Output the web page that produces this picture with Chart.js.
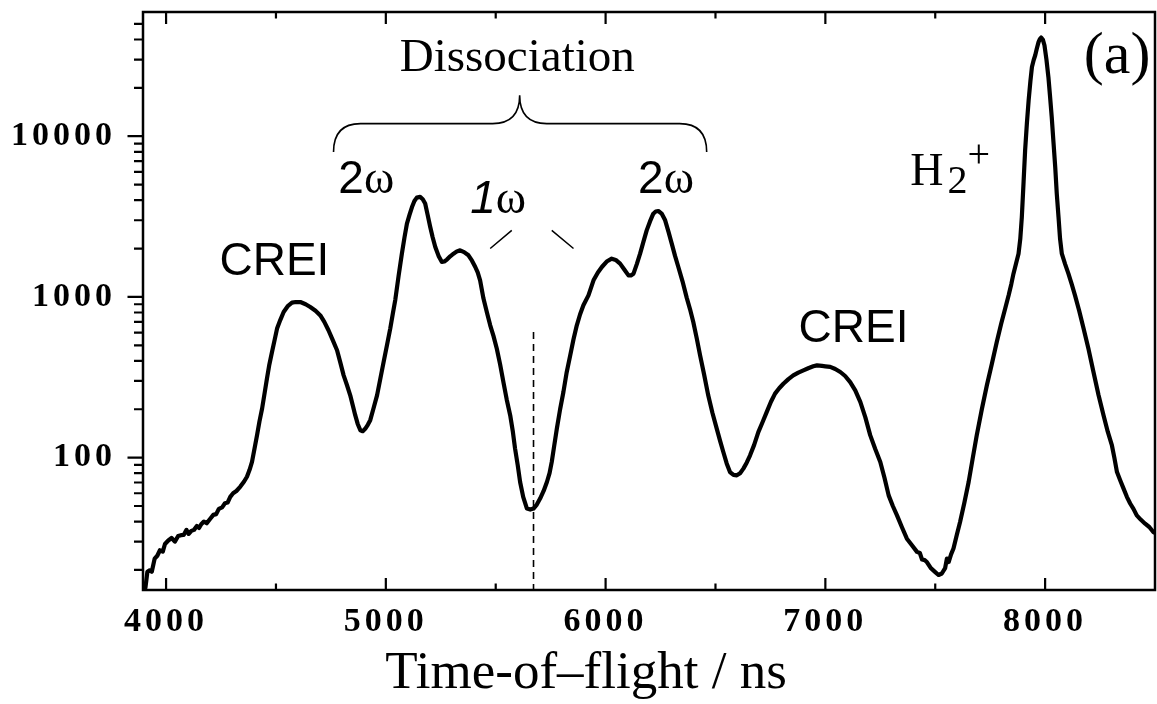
<!DOCTYPE html>
<html>
<head>
<meta charset="utf-8">
<title>Time-of-flight spectrum</title>
<script src="https://cdn.jsdelivr.net/npm/chart.js@4.4.1/dist/chart.umd.min.js"></script>
<style>
  html, body { margin: 0; padding: 0; background: #fff; }
  #wrap { width: 1157px; height: 704px; }
</style>
</head>
<body>
<div id="wrap"><canvas id="tof" width="1157" height="704"></canvas></div>
<script>
// time of flight (ns)
var TOF = [
  3906, 3915, 3925, 3935, 3948, 3960, 3972, 3985, 3995, 4010, 4025, 4040, 4055, 4068, 4080, 4093,
  4103, 4115, 4127, 4140, 4150, 4160, 4172, 4185, 4200, 4215, 4228, 4240, 4255, 4268, 4280, 4292,
  4305, 4320, 4338, 4355, 4368, 4380, 4391, 4402, 4414, 4425, 4437, 4449, 4459, 4470, 4482, 4494,
  4505, 4520, 4535, 4555, 4573, 4590, 4611, 4635, 4656, 4680, 4702, 4720, 4739, 4758, 4778, 4793,
  4808, 4823, 4838, 4850, 4861, 4872, 4884, 4895, 4906, 4918, 4929, 4945, 4960, 4975, 4990, 5005,
  5020, 5032, 5043, 5058, 5073, 5085, 5096, 5108, 5119, 5130, 5141, 5156, 5168, 5179, 5190, 5202,
  5213, 5225, 5240, 5255, 5266, 5278, 5293, 5308, 5323, 5338, 5356, 5376, 5392, 5407, 5418, 5429,
  5444, 5460, 5475, 5490, 5505, 5520, 5535, 5550, 5566, 5578, 5588, 5600, 5611, 5625, 5642, 5657,
  5672, 5687, 5702, 5718, 5733, 5745, 5755, 5766, 5778, 5793, 5808, 5823, 5839, 5854, 5869, 5884,
  5899, 5922, 5945, 5965, 5983, 6005, 6028, 6046, 6066, 6085, 6104, 6115, 6127, 6142, 6157, 6172,
  6187, 6202, 6217, 6228, 6240, 6255, 6271, 6286, 6301, 6316, 6331, 6350, 6369, 6384, 6399, 6415,
  6430, 6448, 6467, 6486, 6506, 6521, 6536, 6551, 6566, 6582, 6597, 6612, 6627, 6642, 6657, 6676,
  6695, 6714, 6733, 6752, 6771, 6790, 6809, 6832, 6854, 6877, 6900, 6922, 6945, 6962, 6985, 7000,
  7022, 7045, 7068, 7090, 7113, 7136, 7159, 7182, 7204, 7227, 7250, 7269, 7288, 7307, 7326, 7348,
  7371, 7394, 7417, 7430, 7440, 7452, 7462, 7480, 7500, 7515, 7530, 7545, 7553, 7561, 7572, 7583,
  7598, 7613, 7632, 7652, 7670, 7689, 7712, 7735, 7758, 7780, 7800, 7818, 7834, 7846, 7856, 7868,
  7879, 7887, 7894, 7902, 7909, 7917, 7925, 7933, 7940, 7948, 7955, 7962, 7970, 7976, 7982, 7990,
  7997, 8006, 8015, 8022, 8030, 8038, 8046, 8053, 8061, 8068, 8076, 8091, 8106, 8121, 8136, 8155,
  8175, 8198, 8220, 8243, 8266, 8285, 8304, 8315, 8327, 8342, 8357, 8372, 8387, 8402, 8417, 8436,
  8455, 8474, 8493, 8500
];
// ion counts at each time
var COUNTS = [
  15.5, 19.5, 19.9, 19.5, 23.5, 24.5, 26.5, 26, 29, 30.5, 31.6, 30, 32.5, 32.9, 33, 35.5,
  33.5, 35, 35.5, 37.5, 36.5, 38.5, 40, 39, 41.5, 44, 44.5, 48, 49, 52, 52.5, 57,
  60, 62, 66, 71, 76, 84, 94, 113, 138, 168, 202, 255, 310, 380, 454, 540,
  635, 720, 806, 880, 921, 930, 929, 900, 865, 820, 767, 700, 620, 540, 466, 390,
  325, 283, 244, 210, 183, 162, 148, 146, 151, 160, 171, 205, 244, 310, 394, 500,
  635, 790, 960, 1350, 1858, 2350, 2860, 3250, 3625, 3950, 4150, 4190, 4050, 3810, 3250, 2725,
  2350, 2045, 1800, 1650, 1660, 1707, 1790, 1858, 1920, 1950, 1900, 1815, 1680, 1535, 1420, 1268,
  980, 800, 666, 570, 476, 380, 295, 230, 183, 145, 114, 90, 70.5, 57, 48.2, 47.5,
  48.2, 51, 55.6, 62, 70.5, 80, 94, 118, 151, 200, 256, 340, 433, 545, 666, 780,
  887, 1023, 1268, 1420, 1535, 1660, 1730, 1700, 1611, 1480, 1362, 1360, 1395, 1600, 1858, 2200,
  2595, 2950, 3295, 3400, 3425, 3300, 2997, 2550, 2145, 1800, 1535, 1250, 990, 840, 698, 550,
  433, 330, 244, 190, 151, 127, 108, 92, 81.3, 78, 77.6, 80, 85.4, 93, 103, 120,
  144, 166, 192, 222, 250, 270, 288, 308, 325, 338, 349, 360, 370, 375, 372, 370,
  367, 356, 341, 322, 295, 262, 222, 178, 138, 113, 94, 75, 58.2, 50, 43.7, 37,
  31.3, 28.5, 25.9, 25.5, 23.2, 23, 22.4, 20.5, 19.4, 18.6, 19.0, 20.5, 23.5, 22.4, 25, 27.2,
  33, 39.7, 52, 70.5, 98, 138, 200, 282, 385, 524, 680, 845, 1023, 1200, 1395, 1620,
  1858, 2300, 3140, 5200, 8170, 12000, 16700, 22000, 27000, 29800, 31900, 35000, 38500, 40200, 41100, 39800,
  36800, 30000, 23300, 18000, 13200, 9200, 6430, 4400, 3140, 2300, 1858, 1600, 1395, 1200, 1023, 820,
  635, 470, 341, 245, 183, 145, 119, 100, 81.3, 72, 64.1, 57, 51.8, 48, 43.7, 41,
  38.8, 37, 34.4, 34
];

var X_LABELS = [4000, 5000, 6000, 7000, 8000];
var X_MINOR = [4500, 5500, 6500, 7500];
var Y_LABELS = [100, 1000, 10000];

// annotations, anchored in data coordinates (x in ns, y in counts at the text baseline)
var NOTES = [
  { text: 'Dissociation', x: 5598, y: 25350, font: '47px "Liberation Serif"' },
  { text: 'CREI', x: 4493, y: 1361, font: '46px "Liberation Sans"' },
  { text: 'CREI', x: 7128, y: 522, font: '46px "Liberation Sans"' }
];
var OMEGA_NOTES = [
  { digit: '2', italic: false, x: 4911, y: 4436 },
  { digit: '1', italic: true, x: 5511, y: 3311 },
  { digit: '2', italic: false, x: 6275, y: 4436 }
];
var BRACE = { x0: 4762, x1: 6460, xm: 5609, tip: 7975, bar: 11980, cusp: 17970 };
var ONE_OMEGA_MARKS = [[5475, 2000, 5573, 2596], [5755, 2596, 5854, 2000]];
var DASH_AT = 5672, DASH_TOP = 605;
var H2_AT = { x: 7386, y: 4943 };
var PANEL_AT = { x: 8176, y: 24600 };
var AXIS_TITLE = 'Time-of\u2013flight / ns';
var AXIS_TITLE_X = 5911;

var tickFont = { family: '"Liberation Serif", "Times New Roman", serif', size: 34, weight: 'bold' };

var decor = {
  id: 'decor',
  beforeDraw: function(chart) { chart.ctx.letterSpacing = '4px'; },
  beforeDatasetsDraw: function(chart) { chart.ctx.letterSpacing = '0px'; },
  afterDraw: function(chart) {
    var ctx = chart.ctx, a = chart.chartArea;
    var xs = chart.scales.x, ys = chart.scales.y;
    ctx.save();
    ctx.strokeStyle = '#000';
    ctx.fillStyle = '#000';

    // frame
    ctx.lineWidth = 2.5;
    ctx.strokeRect(a.left, a.top, a.right - a.left, a.bottom - a.top);

    // x ticks, inward on bottom and top
    ctx.lineWidth = 2.2;
    ctx.beginPath();
    X_LABELS.concat(X_MINOR).forEach(function(v) {
      var px = xs.getPixelForValue(v);
      var len = X_LABELS.indexOf(v) >= 0 ? 12 : 6.5;
      ctx.moveTo(px, a.bottom); ctx.lineTo(px, a.bottom - len);
      ctx.moveTo(px, a.top); ctx.lineTo(px, a.top + len);
    });
    // y ticks, outward on the left
    for (var dec = 10; dec <= 10000; dec *= 10) {
      for (var m = 1; m <= 9; m++) {
        var v = dec * m;
        if (v < ys.min || v > ys.max) continue;
        var py = ys.getPixelForValue(v);
        var len = (m === 1) ? 15.5 : 9;
        ctx.moveTo(a.left, py); ctx.lineTo(a.left - len, py);
      }
    }
    ctx.stroke();

    // dashed marker at the 1-omega minimum
    ctx.lineWidth = 1.6;
    ctx.setLineDash([7, 5]);
    ctx.beginPath();
    var dx = xs.getPixelForValue(DASH_AT);
    ctx.moveTo(dx, ys.getPixelForValue(DASH_TOP));
    ctx.lineTo(dx, a.bottom);
    ctx.stroke();
    ctx.setLineDash([]);

    // brace over the dissociation peaks
    var bx0 = xs.getPixelForValue(BRACE.x0), bx1 = xs.getPixelForValue(BRACE.x1);
    var bxm = xs.getPixelForValue(BRACE.xm);
    var yTip = ys.getPixelForValue(BRACE.tip), yBar = ys.getPixelForValue(BRACE.bar);
    var yCusp = ys.getPixelForValue(BRACE.cusp);
    var r = 27;
    ctx.lineWidth = 1.6;
    ctx.beginPath();
    ctx.moveTo(bx0, yTip);
    ctx.quadraticCurveTo(bx0, yBar, bx0 + r, yBar);
    ctx.lineTo(bxm - r, yBar);
    ctx.quadraticCurveTo(bxm, yBar, bxm, yCusp);
    ctx.quadraticCurveTo(bxm, yBar, bxm + r, yBar);
    ctx.lineTo(bx1 - r, yBar);
    ctx.quadraticCurveTo(bx1, yBar, bx1, yTip);
    ctx.stroke();

    // short strokes beside 1ω
    ctx.lineWidth = 1.5;
    ctx.beginPath();
    ONE_OMEGA_MARKS.forEach(function(s) {
      ctx.moveTo(xs.getPixelForValue(s[0]), ys.getPixelForValue(s[1]));
      ctx.lineTo(xs.getPixelForValue(s[2]), ys.getPixelForValue(s[3]));
    });
    ctx.stroke();

    // plain labels
    ctx.textBaseline = 'alphabetic';
    ctx.textAlign = 'center';
    NOTES.forEach(function(n) {
      ctx.font = n.font;
      ctx.fillText(n.text, xs.getPixelForValue(n.x), ys.getPixelForValue(n.y));
    });

    // 2ω / 1ω labels
    ctx.textAlign = 'left';
    OMEGA_NOTES.forEach(function(n) {
      var dFont = (n.italic ? 'italic ' : '') + '46px "Liberation Sans"';
      var wFont = '46px "Liberation Serif"';
      ctx.font = dFont; var w1 = ctx.measureText(n.digit).width;
      ctx.font = wFont; var w2 = ctx.measureText('\u03c9').width;
      var left = xs.getPixelForValue(n.x) - (w1 + w2) / 2;
      var base = ys.getPixelForValue(n.y);
      ctx.font = dFont; ctx.fillText(n.digit, left, base);
      ctx.font = wFont; ctx.fillText('\u03c9', left + w1, base);
    });

    // H2+
    var hx = xs.getPixelForValue(H2_AT.x), hy = ys.getPixelForValue(H2_AT.y);
    ctx.font = '46px "Liberation Serif"';
    ctx.fillText('H', hx, hy);
    var hw = ctx.measureText('H').width;
    ctx.font = '40px "Liberation Serif"';
    ctx.fillText('2', hx + hw + 4, hy + 8);
    var sw = ctx.measureText('2').width;
    ctx.fillText('+', hx + hw + 4 + sw, hy - 18);

    // panel tag
    ctx.font = '60px "Liberation Serif"';
    ctx.fillText('(a)', xs.getPixelForValue(PANEL_AT.x), ys.getPixelForValue(PANEL_AT.y));

    // axis title
    ctx.textAlign = 'center';
    ctx.font = '53px "Liberation Serif"';
    ctx.fillText(AXIS_TITLE, xs.getPixelForValue(AXIS_TITLE_X), a.bottom + 98);

    ctx.restore();
  }
};

var points = TOF.map(function(t, i) { return { x: t, y: COUNTS[i] }; });

new Chart(document.getElementById('tof'), {
  type: 'line',
  data: {
    datasets: [{
      data: points,
      borderColor: '#000',
      borderWidth: 4.2,
      pointRadius: 0,
      tension: 0,
      fill: false,
      borderJoinStyle: 'round',
      borderCapStyle: 'round'
    }]
  },
  options: {
    responsive: false,
    animation: false,
    events: [],
    layout: { padding: { left: 0, right: 2, top: 12, bottom: 0 } },
    plugins: { legend: { display: false }, tooltip: { enabled: false } },
    scales: {
      x: {
        type: 'linear',
        min: 3895,
        max: 8500,
        afterBuildTicks: function(s) { s.ticks = X_LABELS.map(function(v) { return { value: v }; }); },
        afterFit: function(s) { s.height = 114; s.paddingLeft = 0; s.paddingRight = 0; },
        grid: { display: false, drawTicks: false },
        border: { display: false },
        ticks: {
          font: tickFont, color: '#000', padding: 12,
          maxRotation: 0, autoSkip: false,
          callback: function(v) { return String(v); }
        }
      },
      y: {
        type: 'logarithmic',
        min: 15,
        max: 59300,
        afterBuildTicks: function(s) { s.ticks = Y_LABELS.map(function(v) { return { value: v }; }); },
        afterFit: function(s) { s.width = 143; s.paddingTop = 0; s.paddingBottom = 0; },
        grid: { display: false, drawTicks: false },
        border: { display: false },
        ticks: {
          font: tickFont, color: '#000', padding: 27,
          autoSkip: false,
          callback: function(v) { return String(v); }
        }
      }
    }
  },
  plugins: [decor]
});
</script>
</body>
</html>
